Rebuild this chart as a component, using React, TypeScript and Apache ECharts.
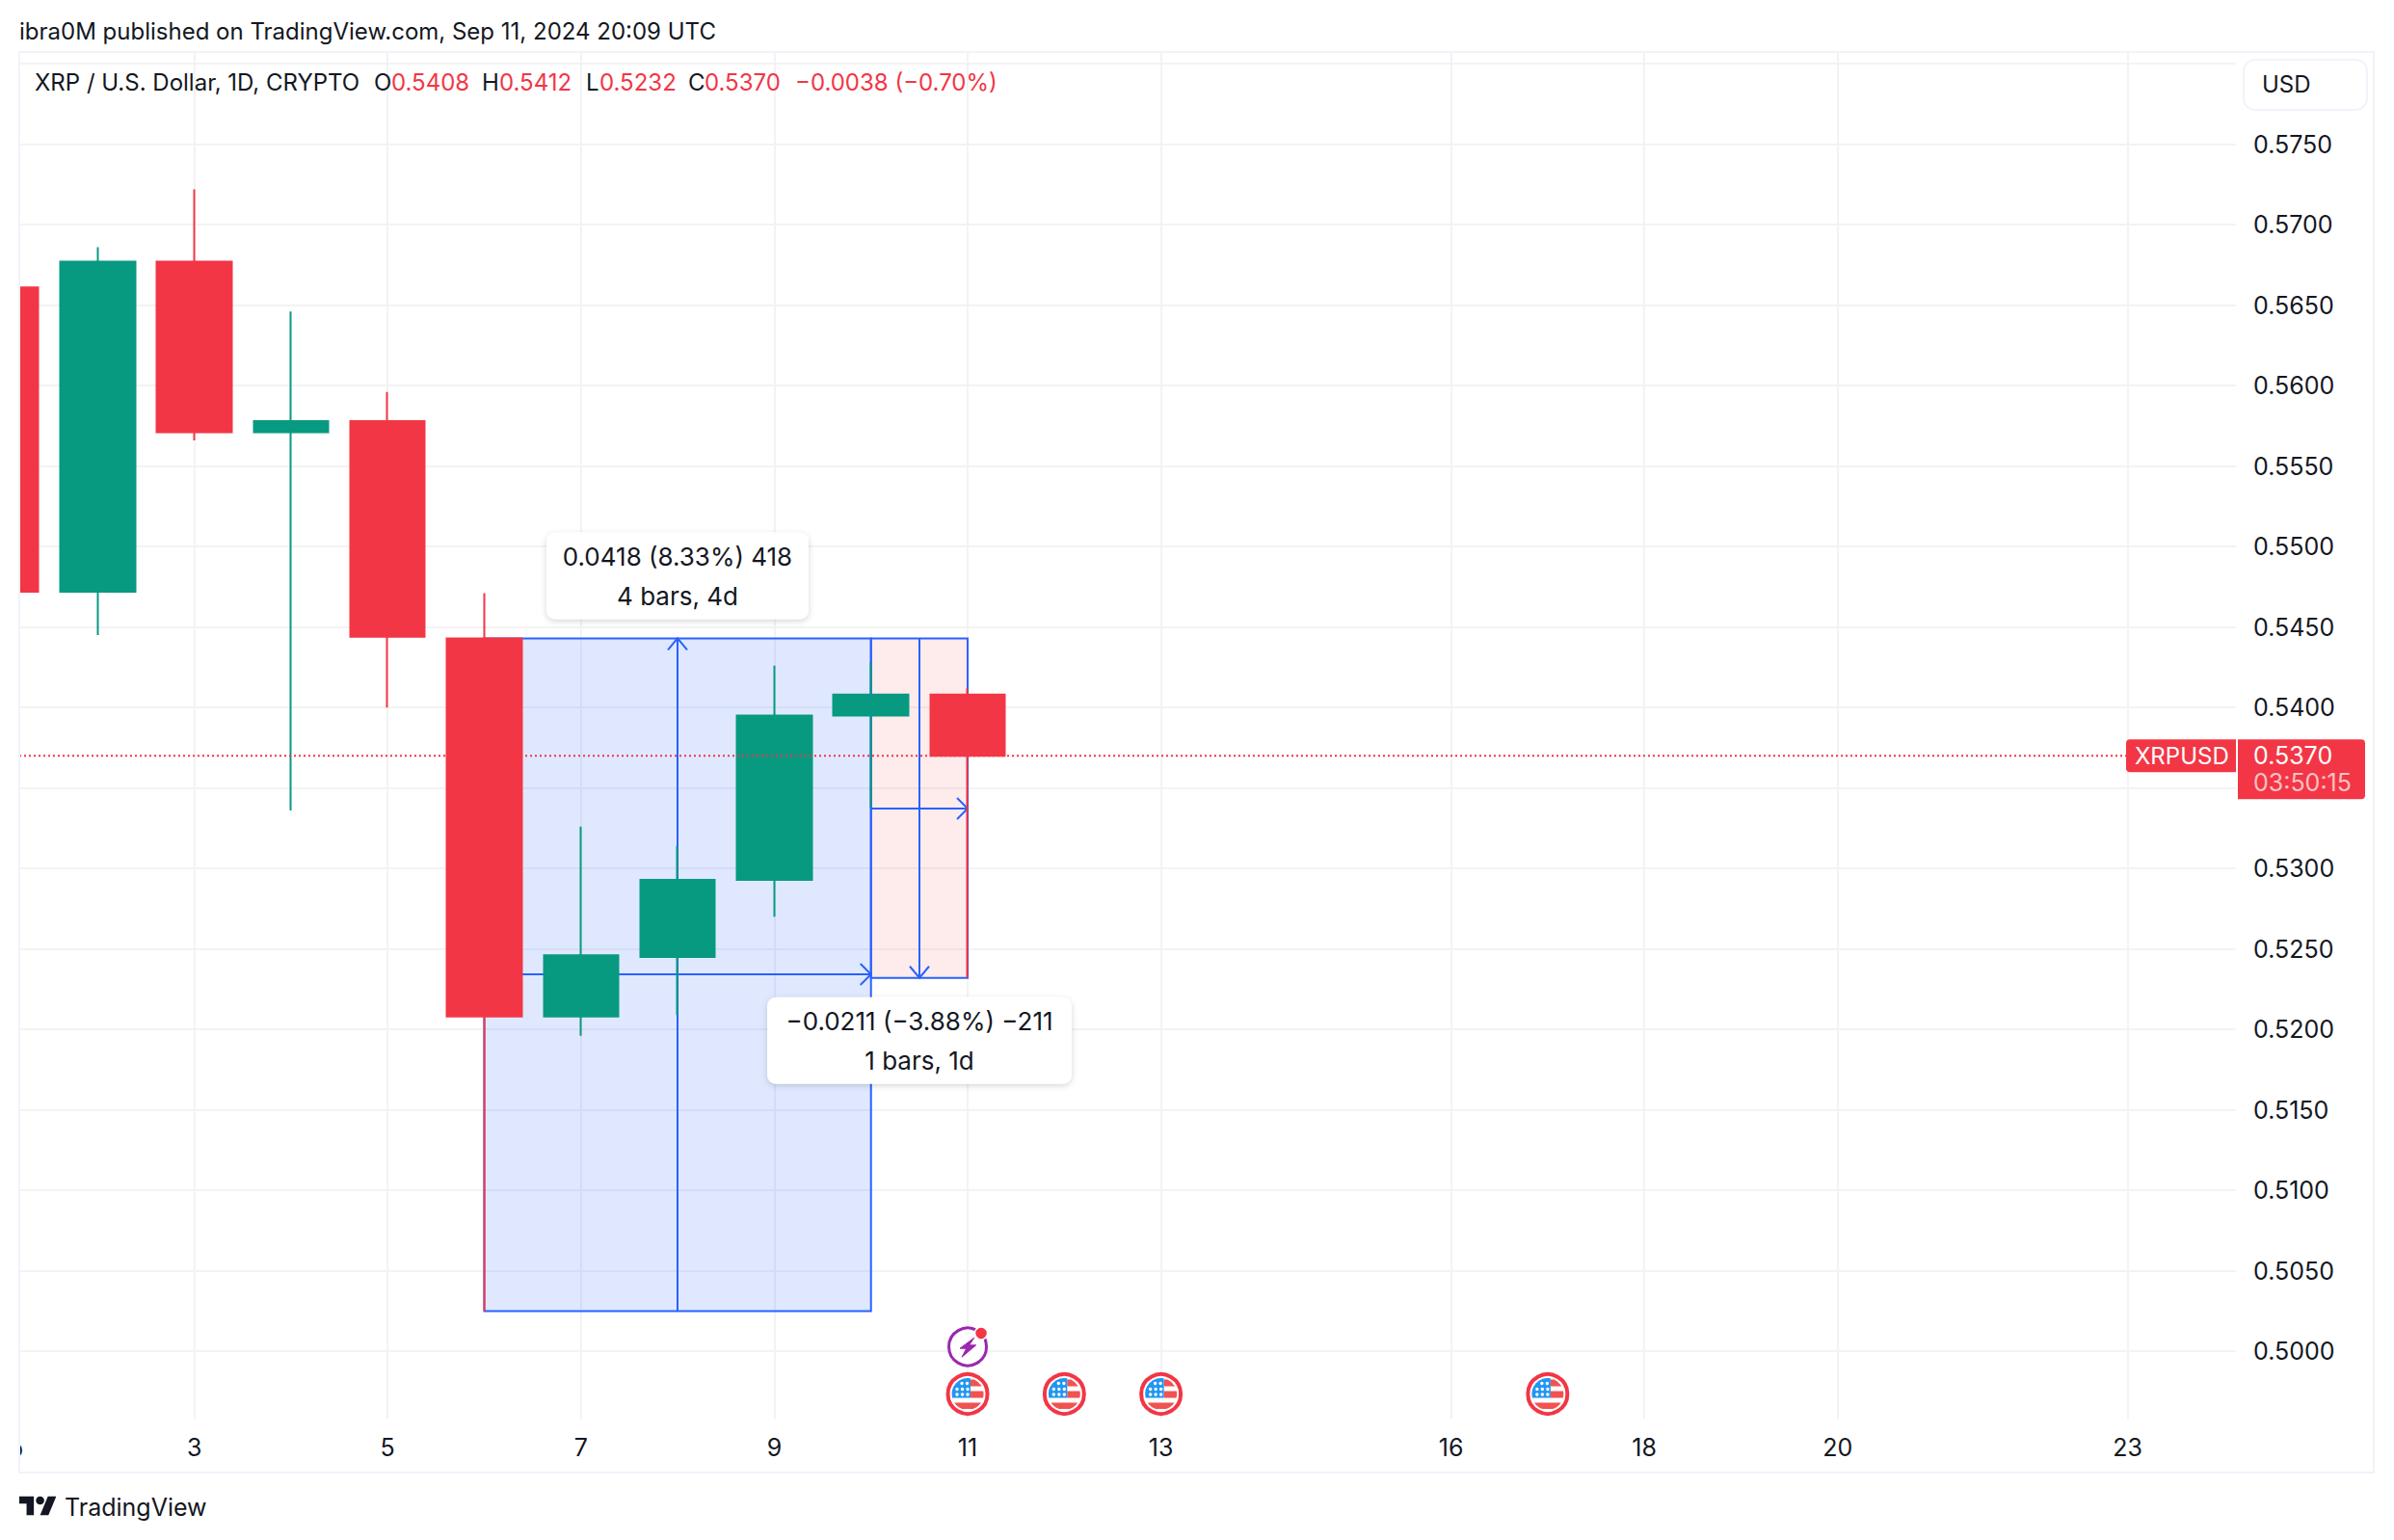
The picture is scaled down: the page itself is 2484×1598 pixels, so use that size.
import React, { useEffect, useRef } from "react";
import * as echarts from "echarts";

const days = [1, 2, 3, 4, 5, 6, 7, 8, 9, 10, 11];
const opens = [0.5661, 0.5472, 0.5677, 0.5571, 0.5578, 0.5443, 0.5208, 0.5245, 0.5293, 0.5395, 0.5408];
const closes = [0.5472, 0.5677, 0.5571, 0.5578, 0.5444, 0.5208, 0.5246, 0.5293, 0.5395, 0.5408, 0.537];
const lows = [0.5455, 0.5445, 0.5566, 0.5336, 0.54, 0.5025, 0.5196, 0.5209, 0.527, 0.5338, 0.5232];
const highs = [0.5668, 0.5686, 0.5722, 0.5646, 0.5596, 0.5471, 0.5326, 0.5314, 0.5426, 0.5428, 0.5412];

const dayTicks = [3, 5, 7, 9, 11, 13, 16, 18, 20, 23];
const priceGrid = [0.5, 0.505, 0.51, 0.515, 0.52, 0.525, 0.53, 0.535, 0.54, 0.545, 0.55, 0.555, 0.56, 0.565, 0.57, 0.575, 0.58];
const priceLabels = priceGrid.slice(0, -1);

// [startDay, endDay, startPrice, endPrice]
const measures = [
  [6, 10, 0.5025, 0.5443],
  [10, 11, 0.5443, 0.5232],
];
const measureTexts = [
  ["0.0418 (8.33%) 418", "4 bars, 4d"],
  ["\u22120.0211 (\u22123.88%) \u2212211", "1 bars, 1d"],
];
const lastPrice = 0.537;
const lastPriceText = "0.5370";
const countdown = "03:50:15";
const symbolName = "XRPUSD";
const usEventDays = [11, 12, 13, 17];
const techEventDays = [11];

const RED = "#F23645";
const GREEN = "#089981";
const BLUE = "#2962FF";
const INK = "#131722";
const FONT = "Inter";
const GRID = "#F3F3F4";
const FRAME = "#F0F3FA";
const X_MIN = 1.1894;
const X_MAX = 24.12;
const Y_MIN = 0.49579;
const Y_MAX = 0.5807;

function chord(y: number, r: number) {
  return Math.sqrt(r * r - y * y);
}
function stripe(y0: number, y1: number, xl: number | null, r: number) {
  const xr0 = chord(y0, r);
  const xr1 = chord(y1, r);
  if (xl !== null) return `M${xl} ${y0}L${xr0} ${y0}A${r} ${r} 0 0 1 ${xr1} ${y1}L${xl} ${y1}Z`;
  return `M${-chord(y0, r)} ${y0}L${xr0} ${y0}A${r} ${r} 0 0 1 ${xr1} ${y1}L${-xr1} ${y1}A${r} ${r} 0 0 1 ${-xr0} ${y0}Z`;
}
const flagRedD =
  stripe(-15, -8, 3, 16.5) + stripe(-3, 4, 3, 16.5) + stripe(9, 15.6, null, 16.5);
const flagBlueD = `M3 4L3 -16.2A16.5 16.5 0 0 0 -16 4Z`;
const boltD = "M6.7 -9.3L-8 1.7L-1.3 1.7L-6 10.7L8.7 -1.7L1.7 -1.7Z";
const tvLogoD = "M14 22H7V11H0V4h14v18zM28 22h-8l7.5-18h8L28 22zM24 8a4 4 0 1 1-8 0a4 4 0 1 1 8 0z";
echarts.graphic.registerShape("tvFlagRed", echarts.graphic.extendPath(flagRedD, {}));
echarts.graphic.registerShape("tvFlagBlue", echarts.graphic.extendPath(flagBlueD, {}));
echarts.graphic.registerShape("tvBolt", echarts.graphic.extendPath(boltD, {}));
echarts.graphic.registerShape("tvLogo", echarts.graphic.extendPath(tvLogoD, {}));

const starDots = [
  [-6, -11], [-0.5, -11],
  [-11, -5], [-5.5, -5], [0, -5],
  [-11, 0.5], [-5.5, 0.5], [0, 0.5],
];

function flagIcon(x: number, y: number) {
  return {
    type: "group",
    x,
    y,
    children: [
      { type: "circle", shape: { cx: 0, cy: 0, r: 20.5 }, style: { fill: "#fff", stroke: RED, lineWidth: 4 } },
      { type: "tvFlagRed", style: { fill: "#F05350" } },
      { type: "tvFlagBlue", style: { fill: "#2196F3" } },
      ...starDots.map(([cx, cy]) => ({ type: "circle", shape: { cx, cy, r: 1.7 }, style: { fill: "#fff" } })),
    ],
  };
}

function boltIcon(x: number, y: number) {
  return {
    type: "group",
    x,
    y,
    children: [
      { type: "circle", shape: { cx: 0, cy: 0, r: 19.5 }, style: { fill: "#fff", stroke: "#9C27B0", lineWidth: 3 } },
      { type: "tvBolt", style: { fill: "#9C27B0", stroke: "#9C27B0", lineWidth: 1 } },
      { type: "circle", shape: { cx: 14, cy: -14, r: 6.5 }, style: { fill: RED, stroke: "#fff", lineWidth: 1.5 } },
    ],
  };
}

function line(x1: number, y1: number, x2: number, y2: number) {
  return { type: "line", shape: { x1, y1, x2, y2 }, style: { stroke: BLUE, lineWidth: 2 } };
}
function head(points: number[][]) {
  return { type: "polyline", shape: { points }, style: { stroke: BLUE, lineWidth: 2, fill: "none" } };
}

function renderMeasure(params: any, api: any) {
  const x0 = api.value(0), x1 = api.value(1), pa = api.value(2), pb = api.value(3);
  const a = api.coord([x0, pa]);
  const b = api.coord([x1, pb]);
  const left = a[0], right = b[0];
  const top = Math.min(a[1], b[1]), bottom = Math.max(a[1], b[1]);
  const midX = Math.round((left + right) / 2);
  const midY = Math.round((top + bottom) / 2);
  const up = pb > pa;
  const tipY = up ? top : bottom;
  const tailY = up ? bottom : top;
  const wing = up ? 12 : -12;
  return {
    type: "group",
    children: [
      {
        type: "rect",
        shape: { x: left, y: top, width: right - left, height: bottom - top },
        style: { fill: up ? "rgba(41,98,255,0.15)" : "rgba(242,54,69,0.1)", stroke: BLUE, lineWidth: 2 },
      },
      line(midX, tailY, midX, tipY),
      head([[midX - 10, tipY + wing], [midX, tipY], [midX + 10, tipY + wing]]),
      line(left, midY, right, midY),
      head([[right - 11, midY - 11], [right, midY], [right - 11, midY + 11]]),
    ],
  };
}

function renderCard(params: any, api: any) {
  const x0 = api.value(0), x1 = api.value(1), pa = api.value(2), pb = api.value(3);
  const a = api.coord([x0, pa]);
  const b = api.coord([x1, pb]);
  const cx = Math.round((a[0] + b[0]) / 2);
  const up = pb > pa;
  const w = up ? 272 : 316;
  const h = 90;
  const y = up ? b[1] - 20 - h : b[1] + 20;
  const [l1, l2] = measureTexts[params.dataIndex];
  const txt = (text: string, ty: number) => ({
    type: "text",
    style: { text, x: cx, y: ty, align: "center", verticalAlign: "middle", fill: INK, fontFamily: FONT, fontSize: 26 },
  });
  return {
    type: "group",
    children: [
      {
        type: "rect",
        shape: { x: cx - w / 2, y, width: w, height: h, r: 9 },
        style: { fill: "#fff", shadowBlur: 6, shadowColor: "rgba(0,0,0,0.16)", shadowOffsetY: 2 },
      },
      txt(l1, y + 25),
      txt(l2, y + 66),
    ],
  };
}

function renderPriceTag(params: any, api: any) {
  const y = api.coord([X_MAX, api.value(1)])[1];
  const top = y - 17;
  const label = (text: string, x: number, ty: number, fill: string, size: number) => ({
    type: "text",
    style: { text, x, y: ty, align: "left", verticalAlign: "middle", fill, fontFamily: FONT, fontSize: size },
  });
  return {
    type: "group",
    children: [
      { type: "rect", shape: { x: 2206, y: top, width: 114, height: 34, r: [4, 0, 0, 4] }, style: { fill: RED } },
      { type: "rect", shape: { x: 2322, y: top, width: 132, height: 62, r: [0, 4, 4, 0] }, style: { fill: RED } },
      label(symbolName, 2215, y, "#fff", 24),
      label(lastPriceText, 2338, y, "#fff", 25),
      label(countdown, 2338, y + 28, "rgba(255,255,255,0.7)", 25),
    ],
  };
}

function renderUsEvent(params: any, api: any) {
  const p = api.coord([api.value(0), Y_MIN]);
  return flagIcon(p[0], p[1] - 26);
}
function renderTechEvent(params: any, api: any) {
  const p = api.coord([api.value(0), Y_MIN]);
  return boltIcon(p[0], p[1] - 75);
}

const headerText = (text: string, x: number, y: number, fill: string, size = 24) => ({
  type: "text",
  z: 50,
  style: { text, x, y, fill, fontFamily: FONT, fontSize: size, align: "left", verticalAlign: "middle" },
});

export default function App() {
  const ref = useRef<HTMLDivElement>(null);
  useEffect(() => {
    const chart = echarts.init(ref.current!, null, { renderer: "svg" });
    chart.setOption({
      animation: false,
      backgroundColor: "#fff",
      grid: { left: 20, top: 54.5, width: 2300, height: 1418, containLabel: false },
      xAxis: {
        type: "value",
        min: X_MIN,
        max: X_MAX,
        axisLine: { show: false },
        axisTick: { show: false, customValues: dayTicks },
        axisLabel: {
          customValues: dayTicks,
          color: INK,
          fontFamily: FONT,
          fontSize: 25,
          margin: 17,
          formatter: (v: number) => String(Math.round(v)),
        },
        splitLine: { show: true, lineStyle: { color: GRID, width: 2 } },
      },
      yAxis: {
        type: "value",
        position: "right",
        min: Y_MIN,
        max: Y_MAX,
        axisLine: { show: false },
        axisTick: { show: false, customValues: priceGrid },
        axisLabel: {
          customValues: priceLabels,
          color: INK,
          fontFamily: FONT,
          fontSize: 25,
          margin: 18,
          align: "left",
          formatter: (v: number) => v.toFixed(4),
        },
        splitLine: { show: true, lineStyle: { color: GRID, width: 2 } },
      },
      series: [
        {
          type: "custom",
          z: 1,
          renderItem: renderMeasure,
          encode: { x: [0, 1], y: [2, 3] },
          data: measures,
          silent: true,
        },
        {
          type: "candlestick",
          z: 2,
          barWidth: 78,
          encode: { x: 0, y: [1, 2, 3, 4] },
          itemStyle: { color: GREEN, color0: RED, borderColor: GREEN, borderColor0: RED, borderWidth: 2 },
          data: days.map((d, i) => [d, opens[i], closes[i], lows[i], highs[i]]),
          silent: true,
        },
        {
          type: "line",
          z: 3,
          symbol: "none",
          silent: true,
          lineStyle: { color: RED, width: 2, type: [2, 3] },
          data: [[X_MIN, lastPrice], [X_MAX, lastPrice]],
        },
        {
          type: "custom",
          z: 4,
          renderItem: renderCard,
          encode: { x: [0, 1], y: [2, 3] },
          data: measures,
          silent: true,
        },
        {
          type: "custom",
          z: 5,
          renderItem: renderPriceTag,
          encode: { x: 0, y: 1 },
          data: [[X_MAX, lastPrice]],
          silent: true,
        },
        {
          type: "custom",
          z: 6,
          renderItem: renderUsEvent,
          encode: { x: 0 },
          data: usEventDays.map((d) => [d]),
          silent: true,
        },
        {
          type: "custom",
          z: 6,
          renderItem: renderTechEvent,
          encode: { x: 0 },
          data: techEventDays.map((d) => [d]),
          silent: true,
        },
      ],
      graphic: [
        { type: "text", z: 40, style: { text: "Sep", x: 1, y: 1503, fill: INK, fontFamily: FONT, fontSize: 25, align: "center", verticalAlign: "middle" } },
        { type: "rect", z: 41, shape: { x: 0, y: 50, width: 20, height: 1490 }, style: { fill: "#fff" } },
        { type: "rect", z: 42, shape: { x: 20, y: 54, width: 2443, height: 1474 }, style: { fill: "none", stroke: FRAME, lineWidth: 2 } },
        headerText("ibra0M published on TradingView.com, Sep 11, 2024 20:09 UTC", 20, 32, INK, 24),
        headerText("XRP / U.S. Dollar, 1D, CRYPTO", 36, 85, INK),
        headerText("O", 388, 85, INK),
        headerText("0.5408", 406, 85, RED),
        headerText("H", 500, 85, INK),
        headerText("0.5412", 518, 85, RED),
        headerText("L", 608, 85, INK),
        headerText("0.5232", 622, 85, RED),
        headerText("C", 714, 85, INK),
        headerText("0.5370", 731, 85, RED),
        headerText("\u22120.0038 (\u22120.70%)", 825, 85, RED),
        {
          type: "rect",
          z: 45,
          shape: { x: 2328, y: 62, width: 128, height: 52, r: 12 },
          style: { fill: "#fff", stroke: FRAME, lineWidth: 2 },
        },
        headerText("USD", 2347, 87, INK, 24),
        { type: "tvLogo", z: 50, x: 20, y: 1548.4, scaleX: 1.08, scaleY: 1.08, style: { fill: INK } },
        headerText("TradingView", 67, 1564, INK, 25),
      ],
    });
    return () => chart.dispose();
  }, []);
  return (
    <div
      ref={ref}
      style={{ position: "absolute", left: 0, top: 0, width: 2484, height: 1598, background: "#fff" }}
    />
  );
}
